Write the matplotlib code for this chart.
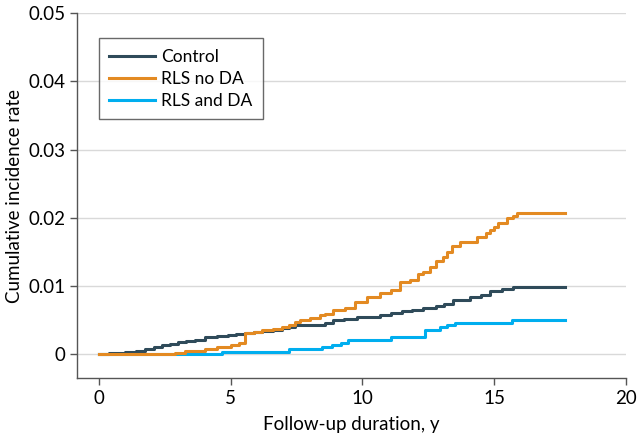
import matplotlib.pyplot as plt
import numpy as np

plt.rcParams['font.family'] = ['Lato', 'DejaVu Sans']

# cumulative incidence (step curves)
ctrl_t = [0, 0.4, 1.0, 1.4, 1.75, 2.1, 2.4, 2.7, 3.0, 3.3, 3.64, 4.02, 4.5, 4.9,
          5.2, 5.54, 5.9, 6.17, 6.6, 6.93, 7.2, 7.44, 8.58, 8.9, 9.3, 9.8, 10.4,
          10.66, 11.1, 11.5, 11.9, 12.3, 12.8, 13.1, 13.43, 14.08, 14.5, 14.84,
          15.3, 15.72, 17.68]
ctrl_y = [0, 0.0001, 0.0003, 0.0005, 0.0008, 0.0010, 0.0013, 0.0015, 0.0017, 0.0019,
          0.0021, 0.0025, 0.0026, 0.0028, 0.0029, 0.0031, 0.0032, 0.0034, 0.0036,
          0.0038, 0.0040, 0.0043, 0.0045, 0.0050, 0.0052, 0.0054, 0.0055, 0.0058,
          0.0060, 0.0063, 0.0065, 0.0068, 0.0070, 0.0073, 0.0080, 0.0084, 0.0087,
          0.0092, 0.0095, 0.0099, 0.0099]

nod_t = [0, 2.57, 2.9, 3.26, 3.7, 4.02, 4.5, 5.03, 5.3, 5.54, 5.9, 6.17, 6.6, 6.93,
         7.2, 7.44, 7.63, 8.0, 8.39, 8.58, 8.88, 9.34, 9.7, 10.16, 10.66, 11.1,
         11.42, 11.8, 12.1, 12.3, 12.55, 12.8, 13.05, 13.2, 13.38, 13.7, 14.14,
         14.33, 14.7, 14.84, 15.0, 15.15, 15.47, 15.72, 15.85, 17.68]
nod_y = [0, 0, 0.0002, 0.0004, 0.0005, 0.0007, 0.0011, 0.0014, 0.0016, 0.0031,
         0.0033, 0.0035, 0.0037, 0.0040, 0.0043, 0.0047, 0.0050, 0.0053, 0.0057,
         0.0059, 0.0065, 0.0068, 0.0077, 0.0084, 0.0089, 0.0094, 0.0106, 0.0109,
         0.0118, 0.0121, 0.0128, 0.0136, 0.0143, 0.0150, 0.0158, 0.0164, 0.0165,
         0.0172, 0.0177, 0.0182, 0.0186, 0.0192, 0.0200, 0.0202, 0.0207, 0.0207]

da_t = [0, 4.67, 7.2, 8.45, 8.85, 9.2, 9.45, 11.1, 12.37, 12.94, 13.2, 13.5, 15.66, 17.68]
da_y = [0, 0.0003, 0.0007, 0.0010, 0.0013, 0.0016, 0.0020, 0.0025, 0.0036, 0.0039,
        0.0043, 0.0046, 0.0050, 0.0050]

fig = plt.figure(figsize=(6.42, 4.41), dpi=100)
ax = fig.add_axes([0.12, 0.143, 0.855, 0.827])

ax.step(ctrl_t, ctrl_y, where='post', color='#2f4b5a', lw=2.2, label='Control', zorder=3)
ax.step(nod_t, nod_y, where='post', color='#e38a22', lw=2.2, label='RLS no DA', zorder=4)
ax.step(da_t, da_y, where='post', color='#00aeef', lw=2.2, label='RLS and DA', zorder=2)

ax.set_xlim(-0.83, 20)
ax.set_ylim(-0.0035, 0.05)
ax.set_xticks([0, 5, 10, 15, 20])
ax.set_yticks([0, 0.01, 0.02, 0.03, 0.04, 0.05])
ax.set_yticklabels(['0', '0.01', '0.02', '0.03', '0.04', '0.05'])
ax.yaxis.grid(True, color='#d9d9d9', lw=1)
ax.set_axisbelow(True)

for s in ['top', 'right']:
    ax.spines[s].set_visible(False)
for s in ['left', 'bottom']:
    ax.spines[s].set_color('#555555')
    ax.spines[s].set_linewidth(1)
ax.tick_params(colors='#555555', labelcolor='black', labelsize=13.5, length=5, width=1)

ax.set_xlabel('Follow-up duration, y', fontsize=13.5, labelpad=7)
ax.set_ylabel('Cumulative incidence rate', fontsize=13.5, labelpad=4)

leg = ax.legend(loc='upper left', bbox_to_anchor=(0.04, 0.931), fontsize=12.5,
                frameon=True, fancybox=False, handlelength=2.6, borderpad=0.6,
                labelspacing=0.35, handletextpad=0.4, borderaxespad=0)
leg.get_frame().set_edgecolor('#444444')
leg.get_frame().set_linewidth(1)

fig.savefig('out.png', dpi=100)
